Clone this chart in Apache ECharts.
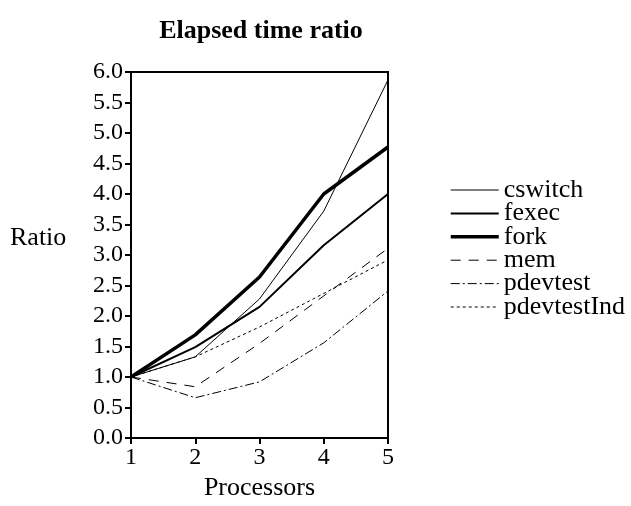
<!DOCTYPE html>
<html>
<head>
<meta charset="utf-8">
<script src="https://cdn.jsdelivr.net/npm/echarts@6/dist/echarts.min.js"></script>
<style>
  html, body { margin: 0; padding: 0; background: #fff; }
  #chart { width: 631px; height: 506px; }
</style>
</head>
<body>
<div id="chart"></div>
<script>
// 数据
const processors = ['1', '2', '3', '4', '5'];
const seriesNames = ['cswitch', 'fexec', 'fork', 'mem', 'pdevtest', 'pdevtestInd'];
const cswitch = [1, 1.33, 2.28, 3.72, 5.87];
const fexec = [1, 1.49, 2.15, 3.16, 4.0];
const fork = [1, 1.69, 2.64, 4.0, 4.77];
const mem = [1, 0.84, 1.55, 2.33, 3.11];
const pdevtest = [1, 0.66, 0.92, 1.56, 2.41];
const pdevtestInd = [1, 1.33, 1.82, 2.37, 2.92];

const font = 'Liberation Serif';
// 线型: 宽度 + 虚线样式
const styles = {
  cswitch: {width: 1, type: 'solid'},
  fexec: {width: 2, type: 'solid'},
  fork: {width: 3.5, type: 'solid'},
  mem: {width: 1, type: [10, 8]},
  pdevtest: {width: 1, type: [9, 3, 2, 3]},
  pdevtestInd: {width: 1, type: [3, 3]}
};

function line(name, data) {
  return {
    name: name,
    type: 'line',
    data: data,
    symbol: 'none',
    animation: false,
    lineStyle: Object.assign({color: '#000'}, styles[name])
  };
}

const myChart = echarts.init(document.getElementById('chart'));
const option = {
  animation: false,
  title: {
    text: 'Elapsed time ratio',
    left: 256,
    textAlign: 'center',
    top: 13,
    textStyle: {fontFamily: font, fontSize: 26, fontWeight: 'bold', color: '#000'}
  },
  graphic: [
    {
      type: 'text',
      left: 10,
      top: 225,
      style: {text: 'Ratio', font: '26px "Liberation Serif"', fill: '#000'}
    }
  ],
  legend: {
    orient: 'vertical',
    left: 444,
    top: 172,
    itemWidth: 48,
    itemHeight: 14,
    itemGap: -2.6,
    itemStyle: {opacity: 0},
    textStyle: {fontFamily: font, fontSize: 26, color: '#000'},
    data: seriesNames.map(n => ({
      name: n,
      lineStyle: Object.assign({color: '#000'}, styles[n])
    }))
  },
  grid: {
    left: 131,
    right: 243,
    top: 72,
    bottom: 68,
    show: true,
    borderColor: '#000',
    borderWidth: 2
  },
  xAxis: {
    type: 'category',
    boundaryGap: false,
    data: processors,
    name: 'Processors',
    nameLocation: 'middle',
    nameGap: 11,
    nameTextStyle: {fontFamily: font, fontSize: 26, color: '#000', verticalAlign: 'top'},
    axisLine: {lineStyle: {color: '#000', width: 2}},
    axisTick: {length: 6, lineStyle: {color: '#000', width: 2}},
    axisLabel: {fontFamily: font, fontSize: 24, color: '#000', margin: 8},
    splitLine: {show: false}
  },
  yAxis: {
    type: 'value',
    min: 0,
    max: 6,
    interval: 0.5,
    axisLine: {show: true, lineStyle: {color: '#000', width: 2}},
    axisTick: {show: true, length: 6, lineStyle: {color: '#000', width: 2}},
    axisLabel: {
      fontFamily: font, fontSize: 24, color: '#000', margin: 8,
      formatter: v => v.toFixed(1)
    },
    splitLine: {show: false}
  },
  series: [
    line('cswitch', cswitch),
    line('fexec', fexec),
    line('fork', fork),
    line('mem', mem),
    line('pdevtest', pdevtest),
    line('pdevtestInd', pdevtestInd)
  ]
};
myChart.setOption(option);
</script>
</body>
</html>
